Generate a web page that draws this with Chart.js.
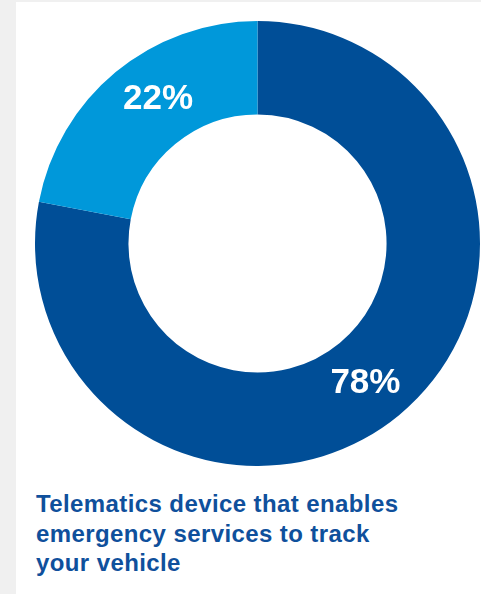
<!DOCTYPE html>
<html>
<head>
<meta charset="utf-8">
<script src="https://cdn.jsdelivr.net/npm/chart.js@4/dist/chart.umd.min.js"></script>
<style>
  html, body { margin: 0; padding: 0; }
  body { width: 481px; height: 594px; background: #f0f0f0; position: relative; overflow: hidden; }
  #painel { position: absolute; left: 16px; top: 2px; width: 465px; height: 592px; background: #fff; }
  #grafico { position: absolute; left: 35px; top: 21px; width: 445px; height: 445px; }
  #legenda {
    position: absolute; left: 36px; top: 489px; width: 440px;
    font-family: "Liberation Sans", Arial, sans-serif; font-weight: bold;
    font-size: 24px; line-height: 29.7px; color: #0f509c; letter-spacing: 0.4px;
  }
</style>
</head>
<body>
<div id="painel"></div>
<div id="grafico"><canvas id="canvas-donut"></canvas></div>
<div id="legenda">Telematics device that enables<br>emergency services to track<br>your vehicle</div>

<script>
// dados do gráfico
const categorias = ["Sim", "Não"];
const valores = [78, 22];
const rotulos = ["78%", "22%"];
const cores = ["#004e97", "#0098da"];

// escreve a percentagem no meio de cada fatia
const rotulosPlugin = {
  id: "rotulos",
  afterDatasetsDraw(chart) {
    const ctx = chart.ctx;
    const meta = chart.getDatasetMeta(0);
    ctx.save();
    ctx.fillStyle = "#fff";
    ctx.font = "bold 35px 'Liberation Sans', Arial, sans-serif";
    ctx.textAlign = "center";
    ctx.textBaseline = "middle";
    meta.data.forEach((arc, i) => {
      // um pouco mais perto do topo, como no original
      const { x, y, startAngle, endAngle, innerRadius, outerRadius } = arc.getProps(
        ["x", "y", "startAngle", "endAngle", "innerRadius", "outerRadius"], true);
      const meio = (startAngle + endAngle) / 2 + (i === 1 ? 0.09 : 0.03);
      const r = (innerRadius + outerRadius) / 2;
      ctx.fillText(rotulos[i], x + Math.cos(meio) * r, y + Math.sin(meio) * r + 1);
    });
    ctx.restore();
  }
};

const ctx = document.getElementById("canvas-donut").getContext("2d");
new Chart(ctx, {
  type: "doughnut",
  data: {
    labels: categorias,
    datasets: [{
      data: valores,
      backgroundColor: cores,
      borderWidth: 0
    }]
  },
  options: {
    responsive: true,
    maintainAspectRatio: false,
    animation: false,
    cutout: "58%",
    layout: { padding: 0 },
    plugins: {
      legend: { display: false },
      tooltip: { enabled: false }
    }
  },
  plugins: [rotulosPlugin]
});
</script>
</body>
</html>
